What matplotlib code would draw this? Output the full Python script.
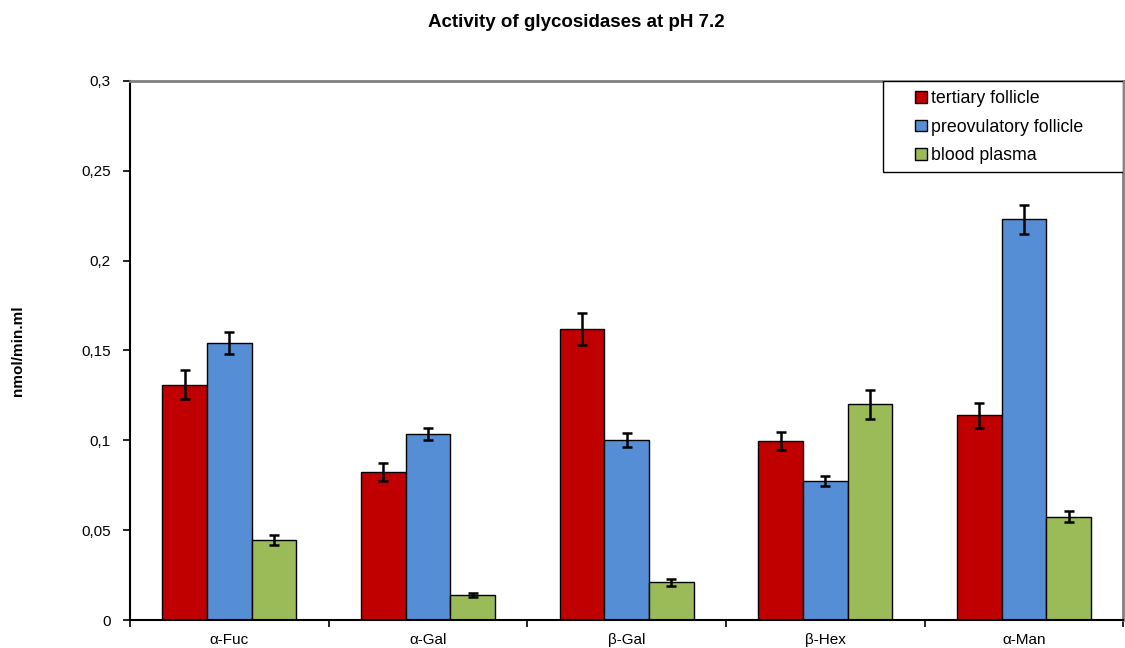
import numpy as np
import matplotlib.pyplot as plt
from matplotlib.patches import Rectangle
from matplotlib.ticker import FuncFormatter

plt.rcParams['font.family'] = ['Liberation Sans', 'DejaVu Sans']

enzymes = ['α-Fuc', 'α-Gal', 'β-Gal', 'β-Hex', 'α-Man']
series = ['tertiary follicle', 'preovulatory follicle', 'blood plasma']

tertiary = [0.131, 0.0824, 0.162, 0.0997, 0.114]
tertiary_err = [0.008, 0.005, 0.009, 0.005, 0.007]
preovulatory = [0.154, 0.1035, 0.100, 0.0774, 0.223]
preovulatory_err = [0.006, 0.0035, 0.004, 0.003, 0.008]
plasma = [0.0445, 0.0139, 0.021, 0.120, 0.0574]
plasma_err = [0.003, 0.001, 0.002, 0.008, 0.003]

colors = ['#C00000', '#558ED5', '#9BBB59']

fig = plt.figure(figsize=(11.25, 6.48), dpi=100)
ax = fig.add_axes([0.1156, 0.0432, 0.883, 0.832])

x = np.arange(len(enzymes))
w = 0.225
data = [(tertiary, tertiary_err), (preovulatory, preovulatory_err), (plasma, plasma_err)]
for i, (vals, errs) in enumerate(data):
    ax.bar(x + (i - 1) * w, vals, w, yerr=errs, color=colors[i], edgecolor='black',
           linewidth=1.0, label=series[i],
           error_kw=dict(ecolor='black', elinewidth=1.8, capsize=3.5, capthick=1.8))

ax.set_xlim(-0.5, len(enzymes) - 0.5)
ax.set_ylim(0, 0.3)
ax.set_yticks(np.arange(0, 0.301, 0.05))
ax.yaxis.set_major_formatter(FuncFormatter(lambda v, p: ('%g' % round(v, 2)).replace('.', ',')))
ax.set_xticks(x)
ax.set_xticklabels(enzymes, fontsize=11)
ax.set_xticks(np.arange(-0.5, len(enzymes)), minor=True)
ax.tick_params(axis='x', which='major', length=0, pad=9)
ax.tick_params(axis='x', which='minor', length=5, width=1.2)
ax.tick_params(axis='y', length=5, width=1.2, labelsize=11, pad=9)

for s in ['top', 'right']:
    ax.spines[s].set_color('#808080')
    ax.spines[s].set_linewidth(2)
for s in ['left', 'bottom']:
    ax.spines[s].set_color('black')
    ax.spines[s].set_linewidth(1.5)

ax.set_ylabel('nmol/min.ml', fontsize=11, fontweight='bold')
ax.yaxis.set_label_coords(-0.106, 0.5)
fig.text(0.512, 0.965, 'Activity of glycosidases at pH 7.2', fontsize=13.5,
         fontweight='bold', ha='center', va='center')

# legend box drawn separately to get the wide left padding of the original
ax.add_patch(Rectangle((0.758, 0.831), 0.242, 0.169, transform=ax.transAxes,
                       facecolor='white', edgecolor='black', linewidth=1, zorder=4))
leg = ax.legend(loc='upper left', bbox_to_anchor=(0.785, 0.993), fontsize=12.8,
                frameon=False, handlelength=0.65, handleheight=0.65,
                handletextpad=0.25, borderpad=0.3, labelspacing=0.66, borderaxespad=0)
leg.set_zorder(5)

plt.savefig('out.png', dpi=100)
